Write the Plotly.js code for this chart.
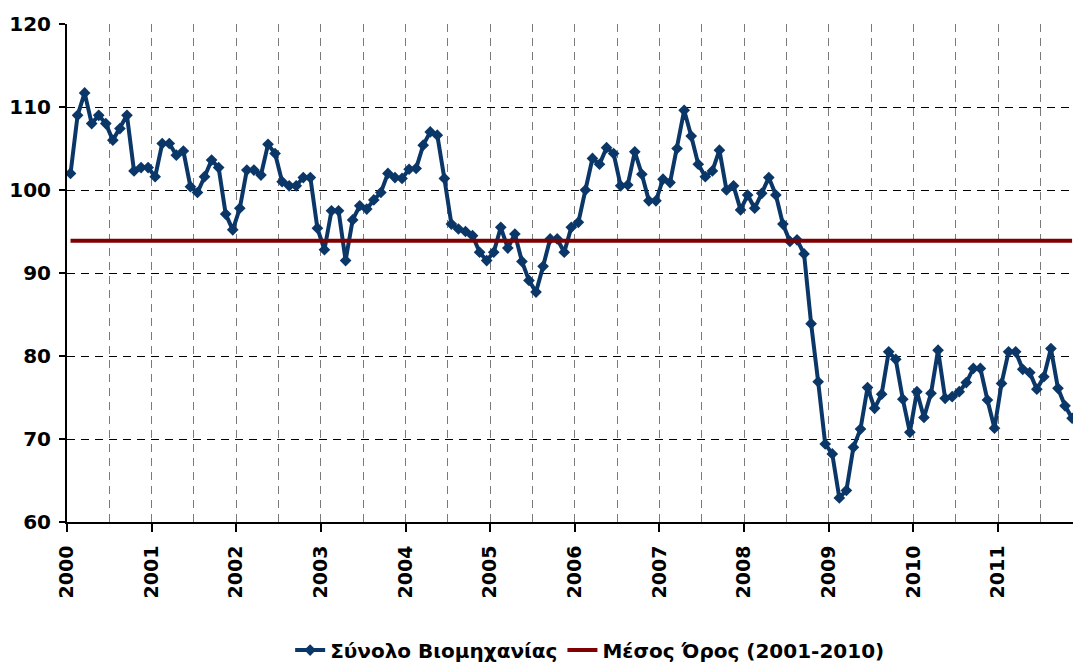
<!DOCTYPE html>
<html>
<head>
<meta charset="utf-8">
<script src="https://cdn.plot.ly/plotly-3.0.1.min.js"></script>
<style>html,body{margin:0;padding:0;background:#fff;}#chart{width:1073px;height:662px;}</style>
</head>
<body>
<div id="chart"></div>
<script>
const startYear = 2000;
const yearLabels = ['2000','2001','2002','2003','2004','2005','2006','2007','2008','2009','2010','2011'];
const v2000 = [102.0, 109.0, 111.7, 108.0, 109.0, 108.0, 106.0, 107.4, 109.0, 102.3, 102.7, 102.7];
const v2001 = [101.6, 105.6, 105.6, 104.2, 104.7, 100.4, 99.7, 101.6, 103.6, 102.7, 97.1, 95.2];
const v2002 = [97.8, 102.4, 102.4, 101.8, 105.5, 104.4, 101.0, 100.5, 100.5, 101.5, 101.5, 95.4];
const v2003 = [92.8, 97.5, 97.5, 91.5, 96.4, 98.1, 97.7, 98.8, 99.7, 102.0, 101.5, 101.4];
const v2004 = [102.5, 102.6, 105.4, 107.0, 106.6, 101.4, 95.9, 95.3, 95.0, 94.5, 92.5, 91.5];
const v2005 = [92.5, 95.5, 93.0, 94.7, 91.4, 89.1, 87.7, 90.8, 94.1, 94.1, 92.5, 95.5];
const v2006 = [96.1, 100.0, 103.8, 103.1, 105.1, 104.4, 100.5, 100.6, 104.6, 101.9, 98.7, 98.7];
const v2007 = [101.3, 100.9, 105.0, 109.6, 106.5, 103.1, 101.6, 102.3, 104.8, 100.0, 100.5, 97.6];
const v2008 = [99.4, 97.8, 99.6, 101.5, 99.4, 95.9, 93.8, 94.0, 92.3, 83.9, 76.9, 69.4];
const v2009 = [68.2, 62.9, 63.8, 69.0, 71.2, 76.2, 73.7, 75.4, 80.5, 79.6, 74.8, 70.8];
const v2010 = [75.7, 72.6, 75.5, 80.7, 74.9, 75.1, 75.7, 76.8, 78.5, 78.5, 74.7, 71.3];
const v2011 = [76.7, 80.5, 80.5, 78.4, 78.0, 76.0, 77.5, 80.9, 76.1, 74.0, 72.5];
const averageValue = 93.9;
const seriesName = 'Σύνολο Βιομηχανίας';
const averageName = 'Μέσος Όρος (2001-2010)';

const values = [].concat(v2000, v2001, v2002, v2003, v2004, v2005, v2006, v2007, v2008, v2009, v2010, v2011);
// month centres on a continuous year axis
const xs = values.map((_, i) => startYear + (i + 0.5) / 12);
const avg = values.map(() => averageValue);
const yearTicks = yearLabels.map(s => Number(s));

const fontFam = 'DejaVu Sans, Verdana, sans-serif';

const traces = [
  {
    x: xs, y: values, name: seriesName, type: 'scatter', mode: 'lines+markers',
    line: {color: '#0b3768', width: 4},
    marker: {symbol: 'diamond', size: 9, color: '#0b3768'}
  },
  {
    x: xs, y: avg, name: averageName, type: 'scatter', mode: 'lines',
    line: {color: '#7f0000', width: 4}
  }
];

const layout = {
  width: 1073, height: 662,
  margin: {l: 67, r: 0, t: 24, b: 140},
  paper_bgcolor: '#ffffff', plot_bgcolor: '#ffffff',
  font: {family: fontFam, color: '#000', size: 19},
  showlegend: true,
  legend: {
    orientation: 'h', x: 0.55, xanchor: 'center', xref: 'container',
    y: 0.018, yanchor: 'middle', yref: 'container',
    font: {family: fontFam, size: 20, color: '#000', weight: 'bold'},
    traceorder: 'normal'
  },
  xaxis: {
    range: [startYear, startYear + 142.63 / 12],
    tickmode: 'array', tickvals: yearTicks, ticktext: yearLabels,
    tickangle: -90,
    tickfont: {family: fontFam, size: 19, weight: 'bold', color: '#000'},
    ticks: 'outside', ticklen: 8, tickwidth: 2, tickcolor: '#000',
    showline: true, linecolor: '#000', linewidth: 2,
    showgrid: true, gridcolor: '#7a7a7a', gridwidth: 1, griddash: '8px,6px',
    minor: {dtick: 0.5, tick0: startYear, showgrid: true, gridcolor: '#7a7a7a', gridwidth: 1, griddash: '8px,6px', ticks: ''},
    zeroline: false, fixedrange: true, ticklabelstandoff: 6
  },
  yaxis: {
    range: [60, 120], dtick: 10, tick0: 60,
    tickfont: {family: fontFam, size: 20, weight: 'bold', color: '#000'},
    ticks: 'outside', ticklen: 6, tickwidth: 2, tickcolor: '#000',
    showline: true, linecolor: '#000', linewidth: 2,
    showgrid: true, gridcolor: '#000', gridwidth: 1, griddash: '8px,6px',
    zeroline: false, fixedrange: true, ticklabelstandoff: 4
  }
};

Plotly.newPlot('chart', traces, layout, {displayModeBar: false, staticPlot: true});
</script>
</body>
</html>
